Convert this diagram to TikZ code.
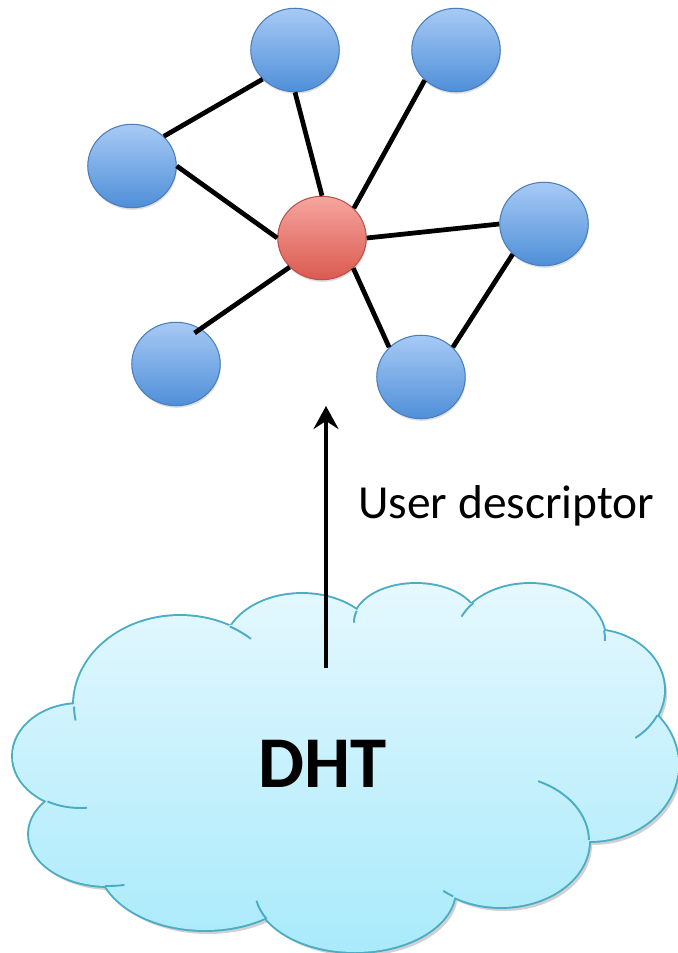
\documentclass[tikz,border=0pt]{standalone}
\usepackage{fontspec}
\setmainfont{Carlito}
\usetikzlibrary{shapes.geometric,arrows.meta,shadows}
\definecolor{peertop}{HTML}{A7CAF5}
\definecolor{peerbot}{HTML}{4F8FD8}
\definecolor{peerline}{HTML}{4A7EBB}
\definecolor{hubtop}{HTML}{F6A59F}
\definecolor{hubbot}{HTML}{DA5A4F}
\definecolor{hubline}{HTML}{B9514C}
\definecolor{cloudtop}{HTML}{E5F8FE}
\definecolor{cloudbot}{HTML}{A9EAFB}
\definecolor{cloudline}{HTML}{4BACC6}
\tikzset{
    peer/.style={ellipse, draw=peerline, line width=0.6pt, top color=peertop, bottom color=peerbot,
        minimum width=1.77cm, minimum height=1.67cm, inner sep=0pt,
        drop shadow={opacity=0.25, shadow xshift=0.4pt, shadow yshift=-1.2pt}},
    hub/.style={peer, draw=hubline, top color=hubtop, bottom color=hubbot},
    link/.style={line width=2.7pt},
    rim/.style={draw=cloudline, line width=1.1pt}
}
% lobes of the cloud and the polygon through its notches
\newcommand\dhtbumps{(80,-756) ellipse [x radius=67, y radius=52]
    (180,-705) ellipse [x radius=106, y radius=89]
    (302,-650) ellipse [x radius=78, y radius=56]
    (416,-622) ellipse [x radius=62, y radius=38]
    (530,-639) ellipse [x radius=75, y radius=55]
    (592,-690) ellipse [x radius=72, y radius=60]
    (590,-765) ellipse [x radius=88, y radius=76]
    (501,-841) ellipse [x radius=88, y radius=66]
    (355,-890) ellipse [x radius=100, y radius=62]
    (205,-860) ellipse [x radius=107, y radius=70]
    (108,-834) ellipse [x radius=79, y radius=52]}
\newcommand\dhtcore{(75,-707) -- (48,-800) -- (105,-885) -- (268,-918) -- (453,-897) -- (589,-840)
    -- (656,-715) -- (603,-631) -- (473,-603) -- (360,-612) -- (230,-625) -- cycle}
\begin{document}
\begin{tikzpicture}[x=0.02cm, y=0.02cm]
        \useasboundingbox (0,0) rectangle (678,-953);
        % DHT cloud
        \begin{scope}[shift={(3,-4)}]
            \fill[black, opacity=0.18] \dhtbumps \dhtcore;
        \end{scope}
        \draw[cloudline, line width=2.2pt] \dhtbumps;
        \shade[top color=cloudtop, bottom color=cloudbot] \dhtbumps \dhtcore;
        \foreach \cx/\cy/\rx/\ry/\a/\b in {180/-705/106/89/181/190, 180/-705/106/89/62/48,
                416/-622/62/38/163/181, 530/-639/75/55/139/156, 530/-639/75/55/9/-2,
                592/-690/72/60/-25/-53, 501/-841/88/66/1/65, 501/-841/88/66/237/229,
                355/-890/100/62/208/190, 108/-834/79/52/-92/-78, 80/-756/67/52/-119/-84}
            \draw[rim] (\cx,\cy) ++({\rx*cos(\a)},{\ry*sin(\a)}) arc[start angle=\a, end angle=\b, x radius=\rx, y radius=\ry];
        \node (dht) at (323,-787) [anchor=base, font=\bfseries\fontsize{41.5}{48}\selectfont] {DHT};
        % user graph
        \node[hub] (me) at (322,-238) {};
        \node[peer] (a) at (295,-50) {};
        \node[peer] (b) at (456,-50) {};
        \node[peer] (c) at (132,-166) {};
        \node[peer] (d) at (544,-224) {};
        \node[peer] (e) at (176,-364) {};
        \node[peer] (f) at (421,-377) {};
        \draw[link] (c.43) -- (a.222) (c.east) -- (me.west) (a.south) -- (me.north)
            (b.224) -- (me.43) (me.east) -- (d.west) (me.-44) -- (f.137) (d.224) -- (f.43);
        \draw[link, shorten >=-1.5mm] (me.222) -- (e.55);
        % lookup
        \coordinate (src) at (326,-668);
        \coordinate (dst) at (326,-406);
        \draw[link, -{Stealth[length=4.6mm, width=5mm, inset=1.6mm]}] (src) -- (dst);
        \node (desc) at (358,-518) [anchor=base west, inner sep=0pt, font=\fontsize{27}{32}\selectfont] {User descriptor};
\end{tikzpicture}
\end{document}
